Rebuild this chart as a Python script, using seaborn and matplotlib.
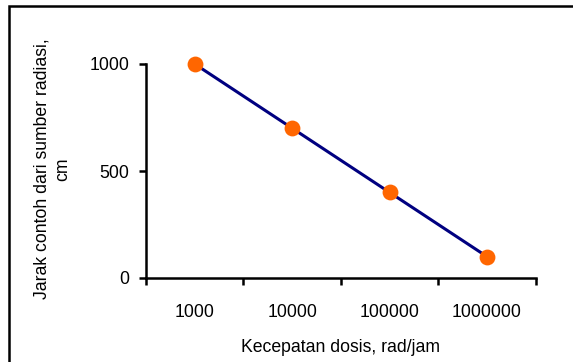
import matplotlib
matplotlib.use("Agg")
import matplotlib.pyplot as plt
import seaborn as sns
import pandas as pd
from matplotlib.patches import Rectangle

categories = ["1000", "10000", "100000", "1000000"]
values = [1000, 700, 400, 100]
y_ticks = [0, 500, 1000]

sns.set_theme(style="white")
plt.rcParams['font.family'] = ['Liberation Sans Narrow', 'Liberation Sans', 'DejaVu Sans']

W, H = 573, 362
fig = plt.figure(figsize=(W / 100, H / 100), dpi=100)
ax = fig.add_axes([146 / W, 1 - 278 / H, (535.7 - 146) / W, (278 - 64) / H])

df = pd.DataFrame({"x": list(range(len(categories))), "y": values})
sns.lineplot(data=df, x="x", y="y", ax=ax, color="#000080", linewidth=2.2, zorder=2)
sns.scatterplot(data=df, x="x", y="y", ax=ax, color="#FF6600", s=130,
                edgecolor="#FF6600", linewidth=0, zorder=3, clip_on=False)
for ln in ax.lines:
    ln.set_clip_on(False)

ax.set_xlim(-0.5, len(categories) - 0.5)
ax.set_ylim(0, 1000)
ax.set_xticks(range(len(categories)))
ax.set_xticklabels(categories)
ax.set_xticks([i - 0.5 for i in range(len(categories) + 1)], minor=True)
ax.set_yticks(y_ticks)
ax.set_yticklabels([str(v) for v in y_ticks])

fs = 12.7
ax.tick_params(axis="x", which="major", length=0, pad=19, labelsize=fs, colors="black")
ax.tick_params(axis="x", which="minor", length=5, width=1.8, direction="out", color="black", bottom=True)
ax.tick_params(axis="y", which="major", length=5, width=1.8, direction="out", pad=7,
               labelsize=fs, colors="black", left=True)

for s in ["top", "right"]:
    ax.spines[s].set_visible(False)
for s in ["left", "bottom"]:
    ax.spines[s].set_color("black")
    ax.spines[s].set_linewidth(1.8)
ax.set_xlabel("")
ax.set_ylabel("")
ax.grid(False)

fig.text(340.5 / W, 1 - 347 / H, "Kecepatan dosis, rad/jam", ha="center", va="center",
         fontsize=fs, color="black")
fig.text(52 / W, 1 - 169 / H, "Jarak contoh dari sumber radiasi,\ncm", ha="center", va="center",
         rotation=90, fontsize=fs, color="black", multialignment="center", linespacing=1.3)

fig.patches.append(Rectangle((8.5 / W, -0.05), 1.2, 1 - 5.5 / H + 0.05, transform=fig.transFigure,
                             fill=False, edgecolor="black", linewidth=1.8, figure=fig))

fig.savefig("out.png", dpi=100)
